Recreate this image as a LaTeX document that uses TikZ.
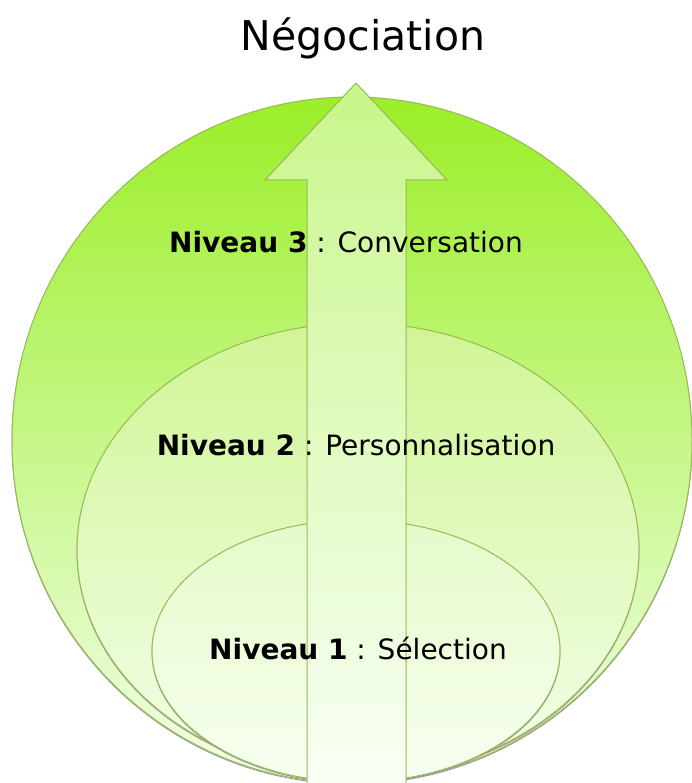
\documentclass[tikz,border=0pt]{standalone}
\usepackage{fontspec}
\setmainfont{DejaVu Sans}
\usepackage{tikz}
\usetikzlibrary{positioning}

\definecolor{rim}{RGB}{150,185,85}
\definecolor{outertop}{RGB}{155,238,40}
\definecolor{outerbot}{RGB}{242,255,232}
\definecolor{midtop}{RGB}{208,245,148}
\definecolor{midbot}{RGB}{243,254,234}
\definecolor{innertop}{RGB}{230,250,202}
\definecolor{innerbot}{RGB}{247,255,240}
\definecolor{arrowtop}{RGB}{200,246,138}
\definecolor{arrowbot}{RGB}{249,255,246}

\begin{document}
\begin{tikzpicture}[
    x=1pt, y=1pt,
    level/.style={draw=rim, line width=1pt},
    shade/.style={draw=black!40, line width=0.9pt},
    label/.style={font=\fontsize{28}{32}\selectfont, inner sep=0pt},
    title/.style={font=\fontsize{41}{46}\selectfont, inner sep=0pt}
]
    \useasboundingbox (0,0) rectangle (691,783);

    % Levels (outer to inner)
    \draw[shade] (352,342) ellipse (340 and 343);
    \draw[level, top color=outertop, bottom color=outerbot] (352,343) ellipse (340 and 343);
    \draw[shade] (358,232) ellipse (281 and 227);
    \draw[level, top color=midtop, bottom color=midbot] (358,233) ellipse (281 and 227);
    \draw[shade] (356,131) ellipse (204 and 131);
    \draw[level, top color=innertop, bottom color=innerbot] (356,132) ellipse (204 and 131);

    % Arrow
    \draw[level, top color=arrowtop, bottom color=arrowbot]
        (307,-2) -- (307,603) -- (265,603) -- (356,700) -- (447,603)
        -- (406,603) -- (406,-2) -- cycle;

    % Texts
    \node[title] (nego) at (363,745) {Négociation};
    \node[label] (lvl3) at (346,541) {\textbf{Niveau 3} : Conversation};
    \node[label] (lvl2) at (356,338) {\textbf{Niveau 2} : Personnalisation};
    \node[label] (lvl1) at (358,134) {\textbf{Niveau 1} : Sélection};
\end{tikzpicture}
\end{document}
